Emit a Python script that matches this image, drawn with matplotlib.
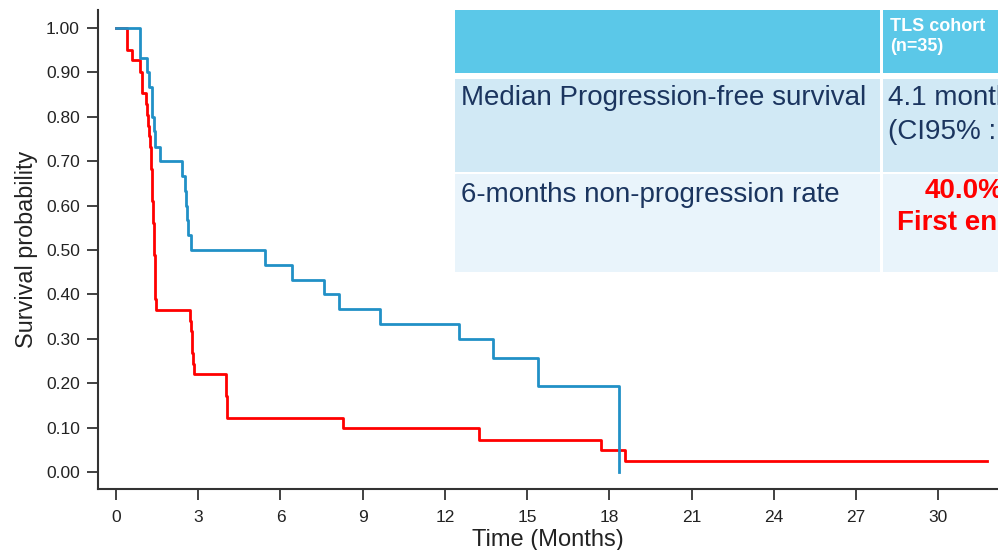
import matplotlib
matplotlib.use("Agg")
import matplotlib.pyplot as plt
from matplotlib.patches import Rectangle

plt.rcParams['font.family'] = ['Liberation Sans', 'DejaVu Sans']

# Kaplan-Meier steps (time in months, survival probability)
blue_t = [0, 0.88, 1.12, 1.19, 1.30, 1.33, 1.37, 1.42, 1.60, 2.40, 2.52, 2.55, 2.58, 2.62, 2.72,
          5.44, 6.41, 7.57, 8.15, 9.63, 12.53, 13.77, 15.41, 18.35]
blue_s = [1.0, 0.933, 0.900, 0.867, 0.833, 0.800, 0.767, 0.733, 0.700, 0.667, 0.633, 0.600, 0.567, 0.533, 0.500,
          0.467, 0.433, 0.400, 0.367, 0.333, 0.300, 0.257, 0.193, 0.0]

red_t = [0, 0.41, 0.60, 0.88, 0.93, 0.95, 1.10, 1.14, 1.18, 1.21, 1.24, 1.26, 1.28, 1.30, 1.32, 1.33,
         1.35, 1.36, 1.38, 1.39, 1.40, 1.41, 1.42, 1.43, 1.44, 1.46,
         2.70, 2.74, 2.76, 2.78, 2.80, 2.84, 4.00, 4.02, 4.04, 4.06,
         8.29, 13.24, 17.70, 18.57, 31.77]
red_s = [1.0, 0.951, 0.927, 0.902, 0.878, 0.854, 0.829, 0.805, 0.780, 0.756, 0.732, 0.707, 0.683, 0.659, 0.634, 0.610,
         0.585, 0.561, 0.537, 0.512, 0.488, 0.463, 0.439, 0.415, 0.390, 0.366,
         0.341, 0.317, 0.293, 0.268, 0.244, 0.220, 0.195, 0.171, 0.146, 0.122,
         0.098, 0.073, 0.049, 0.024, 0.024]

x_ticks = list(range(0, 31, 3))
y_ticks = [0.0, 0.1, 0.2, 0.3, 0.4, 0.5, 0.6, 0.7, 0.8, 0.9, 1.0]

header_text = "TLS cohort\n(n=35)"
row_labels = ["Median Progression-free survival", "6-months non-progression rate"]
pfs_text = ["4.1 months", "(CI95% :"]
rate_text = ["40.0%", "First endpoint"]

fig = plt.figure(figsize=(9.98, 5.5), dpi=100)
ax = fig.add_axes([98 / 998, 1 - 489 / 550, 899 / 998, 479 / 550])

ax.step(red_t, red_s, where='post', color='#ff0000', lw=2.0, zorder=2)
ax.step(blue_t, blue_s, where='post', color='#2190c6', lw=2.0, zorder=3)

ax.set_xlim(-0.657, 32.14)
ax.set_ylim(-0.0383, 1.0406)
ax.set_xticks(x_ticks)
ax.set_yticks(y_ticks)
ax.set_yticklabels([f"{v:.2f}" for v in y_ticks])
ax.tick_params(axis='both', labelsize=12.5, length=8, width=1.3, color='#333333', labelcolor='#222222')
ax.tick_params(axis='x', pad=7)
ax.tick_params(axis='y', pad=5)
for side in ['top', 'right']:
    ax.spines[side].set_visible(False)
for side in ['left', 'bottom']:
    ax.spines[side].set_linewidth(1.5)
    ax.spines[side].set_color('#333333')
ax.set_xlabel("Time (Months)", fontsize=17, color='#222222', labelpad=3)
ax.set_ylabel("Survival probability", fontsize=16.8, color='#222222', labelpad=6)

# summary table laid over the upper right of the plot, in pixel units
ov = fig.add_axes([0, 0, 1, 1], zorder=5)
ov.set_xlim(0, 998)
ov.set_ylim(550, 0)
ov.axis('off')
ov.patch.set_alpha(0)

cells = [
    (455, 10, 425.5, 62.5, '#5bc8e8'), (883, 10, 120, 62.5, '#5bc8e8'),
    (455, 79, 425.5, 92.5, '#d1e9f5'), (883, 79, 120, 92.5, '#d1e9f5'),
    (455, 174, 425.5, 98, '#e9f4fb'), (883, 174, 120, 98, '#e9f4fb'),
]
for x, y, w, h, c in cells:
    ov.add_patch(Rectangle((x, y), w, h, facecolor=c, edgecolor='none'))

navy = '#1b355f'
ov.text(890, 18, header_text, fontsize=13, fontweight='bold', color='white', va='top', ha='left', linespacing=1.2)
ov.text(461, 98, row_labels[0], fontsize=20, color=navy, va='center', ha='left')
ov.text(461, 195, row_labels[1], fontsize=20, color=navy, va='center', ha='left')
ov.text(888, 98, pfs_text[0], fontsize=20, color=navy, va='center', ha='left')
ov.text(888, 132, pfs_text[1], fontsize=20, color=navy, va='center', ha='left')
ov.text(925, 191, rate_text[0], fontsize=20, fontweight='bold', color='#ff0000', va='center', ha='left')
ov.text(897, 223, rate_text[1], fontsize=20, fontweight='bold', color='#ff0000', va='center', ha='left')

fig.savefig('out.png', dpi=100)
